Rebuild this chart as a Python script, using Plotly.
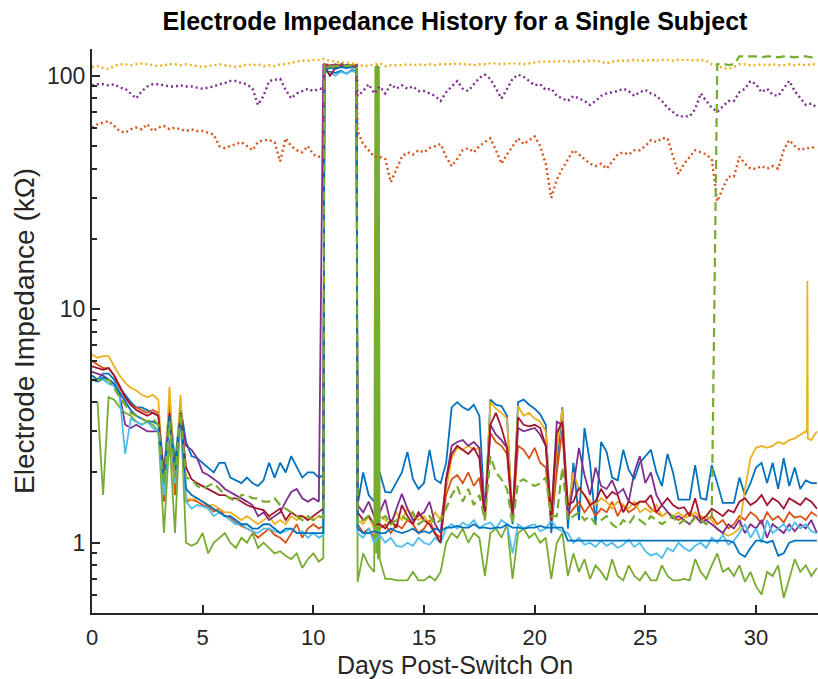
import plotly.graph_objects as go

# ---------------- sample times (days) ----------------
base_days = [i * 0.25 for i in range(132)]
days = sorted(base_days + [10.45, 11.95])

# ---------------- open-circuit style electrodes (dotted) ----------------
yellow_dot = [109, 110, 108, 107, 110, 112, 112, 111, 112, 113, 112, 111, 110, 111, 112, 112,
              111, 112, 111, 110, 109, 110, 111, 112, 111, 110, 109, 110, 112, 111, 112, 110,
              111, 110, 112, 112, 114, 115, 116, 116, 117, 117, 118, 118, 116,
              115, 114, 114, 113, 112, 110, 111, 110, 112, 113, 110, 111, 111,
              111, 112, 111, 112, 111, 112, 111, 112, 112, 112, 113, 112, 112, 111, 112, 112,
              113, 113, 112, 113, 113, 113, 112, 113, 114, 115, 115, 115, 115, 116, 115, 115,
              116, 115, 116, 116, 115, 113, 115, 116, 116, 116, 117, 116, 116, 117, 116, 117,
              117, 116, 117, 117, 117, 116, 117, 116, 112, 111, 108, 107, 109, 112, 112, 111,
              111, 112, 111, 112, 111, 111, 112, 111, 112, 111, 112, 112]
purple_dot = [91, 92, 92, 91, 92, 89, 88, 84, 80, 86, 90, 92, 92, 91, 90, 90,
              91, 90, 90, 89, 88, 89, 90, 92, 93, 95, 95, 93, 92, 88, 75, 82,
              95, 96, 97, 87, 80, 84, 86, 88, 86, 88, 88, 112, 111,
              110, 112, 111, 110, 111, 82, 86, 92, 84, 90, 84, 92, 88,
              91, 88, 90, 86, 86, 84, 82, 78, 85, 90, 95, 88, 86, 92, 98, 101,
              97, 88, 80, 88, 97, 101, 99, 95, 91, 92, 87, 88, 82, 80, 78, 82,
              80, 78, 75, 78, 82, 84, 85, 86, 88, 86, 82, 85, 87, 84, 82, 78,
              73, 70, 67, 67, 67, 72, 84, 78, 73, 70, 74, 78, 78, 85, 88, 95,
              92, 85, 88, 83, 82, 88, 95, 86, 80, 75, 76, 73]
red_dot = [60, 62, 63, 64, 61, 58, 57, 59, 60, 59, 62, 58, 60, 61, 59, 60,
           59, 58, 59, 58, 58, 57, 56, 50, 49, 50, 51, 52, 50, 48, 52, 53,
           53, 52, 43, 54, 50, 48, 47, 50, 46, 45, 46, 112, 111,
           110, 111, 110, 111, 110, 58, 51, 48, 45, 45, 44, 35, 40,
           45, 47, 46, 48, 47, 49, 50, 51, 45, 41, 44, 48, 49, 47, 50, 52,
           54, 48, 42, 46, 50, 54, 51, 53, 55, 50, 42, 30, 36, 40, 44, 48,
           46, 44, 42, 41, 42, 40, 43, 46, 47, 46, 48, 48, 50, 53, 52, 54,
           54, 45, 38, 42, 45, 48, 47, 46, 44, 29, 33, 37, 37, 45, 42, 40,
           40, 41, 40, 41, 40, 48, 53, 50, 48, 49, 49, 50]

# ---------------- working electrodes (solid) ----------------
blue = [5.2, 5.0, 5.3, 5.3, 5.0, 4.6, 4.3, 4.0, 3.8, 3.8, 3.7, 3.6, 3.5, 2.0, 3.9, 2.2,
        3.8, 2.7, 2.35, 2.3, 2.2, 2.1, 2.0, 2.2, 2.2, 1.9, 1.85, 1.8, 1.9, 1.8, 1.75, 1.85,
        2.2, 1.9, 2.2, 2.0, 2.35, 2.1, 1.9, 2.0, 2.0, 1.9, 1.95, 105, 104,
        103, 105, 102, 106, 104, 1.45, 2.0, 1.6, 1.5, 2.0, 1.65, 1.64, 1.8,
        2.0, 2.45, 1.87, 1.7, 1.8, 2.5, 1.87, 1.8, 2.2, 3.8, 4.0, 3.8, 3.7, 3.9, 3.5, 1.3,
        4.1, 3.9, 3.85, 3.5, 1.2, 4.0, 4.1, 3.9, 3.75, 3.55, 3.2, 1.1, 2.2, 3.8, 1.15, 2.2,
        1.25, 3.1, 2.2, 1.2, 2.7, 2.45, 1.9, 1.85, 2.5, 2.05, 1.87, 2.2, 2.35, 2.5, 2.0, 1.75,
        2.4, 2.0, 1.53, 1.53, 1.53, 2.15, 1.55, 1.53, 2.15, 1.8, 1.48, 1.48, 1.48, 1.9, 1.6, 1.8,
        2.1, 2.2, 1.8, 2.2, 1.7, 2.3, 1.75, 2.1, 1.7, 1.85, 1.8, 1.8]
red = [6.0, 5.8, 5.6, 5.6, 5.2, 4.6, 4.2, 3.9, 3.8, 3.7, 3.6, 3.7, 3.6, 1.5, 3.7, 1.6,
       3.6, 1.5, 1.53, 1.5, 1.45, 1.43, 1.36, 1.4, 1.3, 1.28, 1.22, 1.18, 1.15, 1.12, 1.05, 1.1,
       1.15, 1.08, 1.05, 1.0, 1.1, 1.2, 1.05, 1.15, 1.2, 1.15, 1.18, 108, 111,
       110, 109, 111, 110, 108, 1.2, 1.1, 1.15, 1.05, 1.15, 1.2, 1.1, 1.2,
       1.15, 1.25, 1.2, 1.1, 1.15, 1.25, 1.1, 1.05, 1.6, 1.87, 1.95, 1.8, 2.0, 1.75, 1.9, 1.3,
       2.95, 2.7, 2.6, 2.4, 1.25, 2.6, 2.5, 2.3, 2.55, 2.2, 2.1, 1.2, 2.0, 3.05, 1.3, 1.4,
       1.5, 1.35, 1.45, 1.3, 1.4, 1.35, 1.5, 1.3, 1.45, 1.35, 1.4, 1.5, 1.5, 1.4, 1.35, 1.3,
       1.35, 1.3, 1.25, 1.3, 1.35, 1.28, 1.3, 1.25, 1.3, 1.2, 1.25, 1.15, 1.2, 1.3, 1.25, 1.35,
       1.3, 1.2, 1.35, 1.25, 1.3, 1.22, 1.35, 1.28, 1.3, 1.25, 1.35, 1.3]
yellow = [6.4, 6.2, 6.3, 6.3, 5.7, 5.2, 4.85, 4.6, 4.5, 4.3, 4.2, 4.3, 4.1, 1.6, 4.65, 1.8,
          4.3, 1.55, 1.53, 1.55, 1.5, 1.45, 1.45, 1.4, 1.35, 1.35, 1.3, 1.25, 1.3, 1.25, 1.2, 1.25,
          1.3, 1.2, 1.25, 1.2, 1.3, 1.25, 1.3, 1.28, 1.25, 1.3, 1.28, 112, 110,
          111, 112, 110, 111, 112, 1.25, 1.2, 1.3, 1.15, 1.3, 1.25, 1.2, 1.35,
          1.25, 1.4, 1.3, 1.25, 1.3, 1.2, 1.35, 1.25, 1.7, 2.3, 2.55, 2.5, 2.6, 2.5, 2.55, 1.3,
          4.0, 3.75, 3.6, 3.4, 1.3, 3.85, 3.5, 3.6, 3.4, 3.3, 3.0, 1.25, 2.5, 3.75, 1.4, 2.0,
          1.7, 1.6, 1.5, 1.45, 1.55, 1.5, 1.4, 1.5, 1.45, 1.4, 1.5, 1.35, 1.4, 1.35, 1.45, 1.3,
          1.35, 1.3, 1.35, 1.28, 1.3, 1.35, 1.27, 1.3, 1.25, 1.14, 1.1, 1.07, 1.1, 1.15, 1.7, 2.3,
          2.55, 2.6, 2.55, 2.6, 2.7, 2.65, 2.75, 2.8, 2.9, 3.0, 2.75, 3.0]
yellow_spike_days = [32.3, 32.32, 32.34]
yellow_spike_vals = [2.95, 13.2, 2.8]
purple = [5.4, 5.3, 5.2, 5.0, 4.8, 4.3, 3.2, 3.1, 3.2, 3.1, 3.0, 3.0, 3.0, 1.7, 3.4, 1.9,
          3.5, 2.6, 2.5, 2.3, 2.0, 1.95, 1.87, 1.8, 1.7, 1.65, 1.6, 1.55, 1.5, 1.45, 1.3, 1.35,
          1.25, 1.3, 1.35, 1.5, 1.65, 1.7, 1.55, 1.5, 1.55, 1.5, 112, 111, 110,
          112, 110, 111, 110, 109, 1.45, 1.35, 1.5, 1.3, 1.35, 1.53, 1.2, 1.4,
          1.62, 1.4, 1.25, 1.3, 1.35, 1.5, 1.2, 1.1, 1.87, 2.6, 2.7, 2.75, 2.6, 2.7, 2.55, 1.35,
          3.2, 2.9, 2.75, 2.55, 1.3, 3.1, 3.0, 3.05, 3.1, 2.9, 2.6, 1.3, 3.3, 3.2, 1.3, 1.75,
          2.55, 1.95, 1.6, 2.1, 1.75, 1.7, 1.85, 1.62, 1.7, 1.5, 2.0, 2.35, 1.8, 2.0, 1.6, 1.45,
          1.35, 1.27, 1.3, 1.25, 1.2, 1.3, 1.22, 1.25, 1.2, 1.15, 1.1, 1.2, 1.15, 1.25, 1.1, 1.2,
          1.15, 1.25, 1.05, 1.2, 1.15, 1.1, 1.2, 1.12, 1.2, 1.15, 1.25, 1.1]
green = [4.0, 4.0, 1.6, 4.2, 4.1, 3.8, 3.6, 3.5, 3.3, 3.2, 3.3, 3.2, 3.0, 1.1, 2.8, 1.1,
         3.7, 1.0, 0.97, 1.0, 1.1, 0.9, 1.0, 1.05, 1.1, 1.0, 0.95, 1.05, 1.0, 1.1, 0.95, 1.0,
         0.95, 0.9, 0.92, 0.88, 0.85, 0.9, 0.78, 0.85, 0.9, 0.83, 0.86, 108, 110,
         109, 110, 111, 110, 109, 0.68, 0.9, 0.8, 0.75, 0.85, 0.7, 0.7, 0.69,
         0.69, 0.69, 0.75, 0.69, 0.69, 0.72, 0.69, 0.75, 1.0, 1.1, 1.05, 1.15, 1.0, 1.1, 1.05, 0.72,
         1.1, 1.15, 1.05, 1.2, 0.7, 1.1, 1.15, 1.05, 1.1, 1.0, 1.05, 0.7, 1.0, 1.1, 0.72, 0.9,
         0.75, 0.85, 0.7, 0.8, 0.75, 0.69, 0.85, 0.72, 0.69, 0.8, 0.72, 0.69, 0.75, 0.69, 0.69, 0.8,
         0.72, 0.69, 0.69, 0.7, 0.69, 0.85, 0.75, 0.7, 0.8, 0.9, 0.75, 0.78, 0.72, 0.8, 0.68, 0.75,
         0.65, 0.6, 0.75, 0.72, 0.8, 0.58, 0.7, 0.85, 0.75, 0.8, 0.72, 0.78]
green_spike_days = [12.8, 12.84, 12.88, 12.92, 12.96]
green_spike_vals = [110, 0.9, 112, 0.85, 110]
light_blue = [5.0, 4.9, 5.0, 4.8, 4.7, 4.2, 2.4, 3.4, 3.3, 3.2, 3.3, 3.1, 3.0, 1.6, 3.4, 1.8,
              3.5, 1.5, 1.4, 1.45, 1.43, 1.4, 1.3, 1.35, 1.3, 1.25, 1.2, 1.2, 1.15, 1.12, 1.1, 1.15,
              1.15, 1.12, 1.1, 1.12, 1.15, 1.1, 1.12, 1.05, 1.1, 1.05, 1.08, 104, 103,
              100, 104, 102, 105, 103, 1.1, 1.05, 1.15, 1.0, 1.08, 1.0, 1.05, 0.97,
              0.96, 1.0, 0.97, 1.05, 1.0, 0.98, 1.05, 1.0, 1.15, 1.2, 1.15, 1.22, 1.18, 1.25, 1.15, 1.2,
              1.22, 1.15, 1.25, 1.2, 0.9, 1.2, 1.15, 1.18, 1.2, 1.12, 1.15, 1.25, 1.15, 1.12, 1.1, 1.0,
              1.05, 0.98, 1.0, 0.96, 1.02, 0.97, 1.0, 0.95, 0.98, 1.03, 0.96, 1.0, 0.92, 0.88, 0.9, 0.86,
              0.95, 0.92, 1.0, 0.95, 0.92, 0.97, 1.0, 0.95, 1.05, 1.0, 1.08, 0.98, 1.02, 1.1, 1.2, 1.05,
              1.15, 1.0, 1.25, 1.1, 1.15, 1.2, 1.12, 1.22, 1.15, 1.2, 1.12, 1.1]
dark_red = [5.7, 5.6, 5.5, 5.6, 5.2, 4.7, 4.2, 3.9, 3.7, 3.6, 3.5, 3.6, 3.5, 1.9, 3.6, 2.0,
            3.6, 2.1, 1.87, 1.8, 1.75, 1.7, 1.65, 1.6, 1.6, 1.55, 1.55, 1.5, 1.45, 1.42, 1.4, 1.38,
            1.3, 1.35, 1.4, 1.25, 1.35, 1.3, 1.3, 1.25, 1.3, 1.35, 1.4, 110, 100,
            108, 111, 110, 109, 110, 1.35, 1.25, 1.3, 1.2, 1.2, 1.15, 1.25, 1.16,
            1.45, 1.3, 1.2, 1.35, 1.25, 1.2, 1.1, 1.0, 1.87, 2.4, 2.6, 2.5, 2.4, 2.55, 2.3, 1.25,
            3.2, 3.6, 3.1, 2.55, 1.24, 3.45, 3.2, 3.15, 3.2, 3.1, 2.6, 1.24, 2.95, 3.3, 1.45, 1.5,
            1.72, 1.6, 1.45, 1.5, 1.7, 1.55, 1.65, 1.6, 1.35, 1.5, 1.45, 1.5, 1.5, 1.6, 1.35, 1.45,
            1.55, 1.45, 1.4, 1.42, 1.3, 1.55, 1.25, 1.3, 1.4, 1.35, 1.3, 1.38, 1.35, 1.5, 1.55, 1.45,
            1.5, 1.6, 1.45, 1.55, 1.5, 1.4, 1.55, 1.5, 1.45, 1.55, 1.5, 1.4]
blue_low = [5.0, 4.9, 5.1, 5.0, 4.8, 4.4, 4.0, 3.7, 3.5, 3.4, 3.3, 3.3, 3.2, 1.8, 3.5, 2.0,
            3.5, 1.7, 1.6, 1.55, 1.5, 1.45, 1.4, 1.35, 1.3, 1.3, 1.25, 1.2, 1.2, 1.15, 1.15, 1.2,
            1.2, 1.15, 1.1, 1.15, 1.15, 1.1, 1.1, 1.1, 1.1, 1.1, 1.1, 106, 108,
            107, 109, 108, 109, 108, 1.15, 1.1, 1.1, 1.12, 1.1, 1.1, 1.15, 1.12,
            1.1, 1.12, 1.15, 1.1, 1.12, 1.1, 1.15, 1.12, 1.16, 1.16, 1.18, 1.16, 1.16, 1.2, 1.16, 1.16,
            1.15, 1.16, 1.16, 1.2, 1.16, 1.16, 1.15, 1.16, 1.16, 1.18, 1.16, 1.16, 1.16, 1.16, 1.02, 1.02,
            1.02, 1.02, 1.02, 1.02, 1.02, 1.02, 1.02, 1.02, 1.02, 1.02, 1.02, 1.02, 1.02, 1.02, 1.02, 1.02,
            1.02, 1.02, 1.02, 1.02, 1.02, 1.02, 1.02, 1.02, 1.02, 1.02, 1.02, 1.02, 1.0, 0.9, 0.87, 0.95,
            1.02, 1.02, 1.0, 1.02, 0.88, 0.9, 1.0, 1.02, 1.02, 1.02, 1.02, 1.02]
green_dash = [5.0, 5.0, 4.9, 5.0, 4.6, 4.2, 3.9, 3.6, 3.5, 3.4, 3.3, 3.4, 3.2, 1.8, 3.3, 1.9,
              3.6, 1.9, 1.87, 1.75, 1.7, 1.75, 1.8, 1.7, 1.6, 1.55, 1.5, 1.6, 1.6, 1.55, 1.55, 1.5,
              1.5, 1.55, 1.45, 1.4, 1.35, 1.3, 1.25, 1.3, 1.25, 1.3, 1.28, 110, 109,
              110, 111, 110, 111, 110, 1.2, 1.25, 1.3, 1.2, 1.25, 1.3, 1.2, 1.25,
              1.3, 1.25, 1.35, 1.2, 1.25, 1.3, 1.2, 1.25, 1.4, 1.6, 1.75, 1.5, 1.7, 1.45, 1.6, 1.25,
              2.35, 2.0, 1.87, 1.7, 1.2, 1.82, 1.87, 1.8, 1.75, 1.8, 1.9, 1.3, 1.3, 2.1, 1.25, 1.3,
              1.35, 1.25, 1.3, 1.2, 1.25, 1.3, 1.2, 1.15, 1.25, 1.2, 1.3, 1.25, 1.2, 1.3, 1.25, 1.2,
              1.25, 1.3, 1.2, 1.25, 1.2, 1.28, 1.25, 1.2, 1.3, 112, 113, 111, 112, 121, 121, 121,
              121, 120, 121, 121, 120, 121, 121, 120, 121, 121, 120, 121]

# ---------------- styling ----------------
MB, MR, MY, MP, MG, MLB, MDR = "#0072BD", "#D95319", "#EDB120", "#7E2F8E", "#77AC30", "#4DBEEE", "#A2142F"
FONT = "Liberation Sans, Arial, sans-serif"
TXT = "#262626"


def merged(xs, ys, ex, ey):
    pts = sorted(list(zip(xs, ys)) + list(zip(ex, ey)))
    return [p[0] for p in pts], [p[1] for p in pts]


fig = go.Figure()

solid = [
    ("blue", days, blue, MB),
    ("red", days, red, MR),
    ("yellow", *merged(days, yellow, yellow_spike_days, yellow_spike_vals), MY),
    ("purple", days, purple, MP),
    ("green", *merged(days, green, green_spike_days, green_spike_vals), MG),
    ("light blue", days, light_blue, MLB),
    ("dark red", days, dark_red, MDR),
    ("blue 2", days, blue_low, MB),
]
for name, xs, ys, col in solid:
    assert len(xs) == len(ys), name
    fig.add_trace(go.Scatter(x=xs, y=ys, mode="lines", name=name,
                             line=dict(color=col, width=1.8)))

for name, ys, col in [("yellow dotted", yellow_dot, MY), ("purple dotted", purple_dot, MP),
                      ("red dotted", red_dot, MR)]:
    assert len(ys) == len(days), name
    fig.add_trace(go.Scatter(x=days, y=ys, mode="lines", name=name,
                             line=dict(color=col, width=2.4, dash="2px,3px")))

assert len(green_dash) == len(days)
fig.add_trace(go.Scatter(x=days, y=green_dash, mode="lines", name="green dashed",
                         line=dict(color=MG, width=2.2, dash="9px,5px")))

minor_vals = [0.6, 0.7, 0.8, 0.9] + [v for v in range(2, 10)] + [v * 10 for v in range(2, 10)]

fig.update_layout(
    width=818, height=679,
    margin=dict(l=92, r=0, t=49, b=66, autoexpand=False),
    plot_bgcolor="white", paper_bgcolor="white",
    showlegend=False,
    font=dict(family=FONT, color=TXT, size=22),
    title=dict(text="<b>Electrode Impedance History for a Single Subject</b>",
               x=0.5, xref="paper", xanchor="center", y=0.968, yref="container", yanchor="middle",
               font=dict(family=FONT, size=25, color="black")),
    xaxis=dict(range=[0, 32.8], tickvals=[0, 5, 10, 15, 20, 25, 30], automargin=False,
               ticks="inside", ticklen=8, tickwidth=1.5, tickcolor=TXT,
               showline=True, linecolor=TXT, linewidth=2, showgrid=False, zeroline=False,
               tickfont=dict(size=22, color=TXT), ticklabelstandoff=4,
               title=dict(text="Days Post-Switch On", font=dict(size=25, color=TXT), standoff=12)),
    yaxis=dict(type="log", range=[-0.301, 2.1147], tickvals=[1, 10, 100], automargin=False,
               ticktext=["1", "10", "100"],
               ticks="inside", ticklen=8, tickwidth=1.5, tickcolor=TXT,
               showline=True, linecolor=TXT, linewidth=2, showgrid=False, zeroline=False,
               tickfont=dict(size=23, color=TXT), ticklabelstandoff=0,
               minor=dict(tickvals=minor_vals, ticks="inside", ticklen=5, tickwidth=1.5,
                          tickcolor=TXT, showgrid=False),
               title=dict(text="Electrode Impedance (kΩ)", font=dict(size=28, color=TXT), standoff=4)),
)

# remove the browser's default 8px page margin so the figure fills the window exactly
fig.write_html("out.html",
               config={"displayModeBar": False},
               post_script="document.body.style.margin='0';"
                           "document.documentElement.style.overflow='hidden';")
